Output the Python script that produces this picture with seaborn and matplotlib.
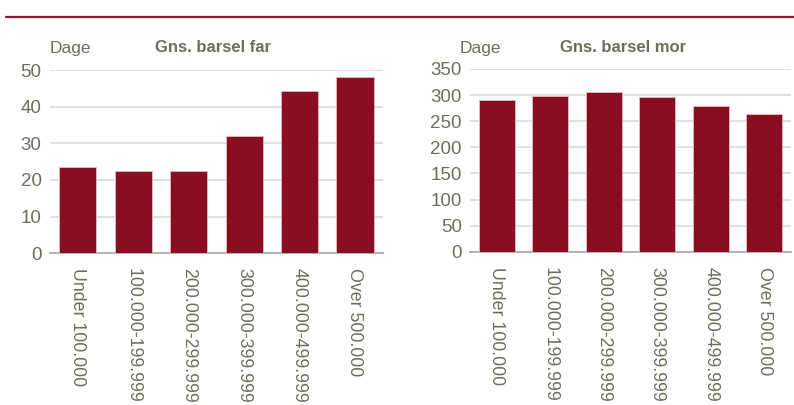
import matplotlib
matplotlib.use("Agg")
import matplotlib.pyplot as plt
import seaborn as sns
from matplotlib.lines import Line2D

categories = ["Under 100.000", "100.000-199.999", "200.000-299.999",
              "300.000-399.999", "400.000-499.999", "Over 500.000"]
far_days = [23.6, 22.5, 22.4, 31.9, 44.2, 48.0]
mor_days = [290, 298, 306, 297, 279, 264]

far_ticks = [0, 10, 20, 30, 40, 50]
mor_ticks = [0, 50, 100, 150, 200, 250, 300, 350]

bar_color = "#8a0e22"
text_color = "#6e6e5e"
grid_color = "#dcdcd2"

sns.set_theme(style="white")
plt.rcParams["font.family"] = ["Liberation Sans Narrow", "Liberation Sans", "DejaVu Sans"]

fig = plt.figure(figsize=(7.94, 4.05), dpi=100)
ax1 = fig.add_axes([0.063, 0.375, 0.419, 0.452])
ax2 = fig.add_axes([0.592, 0.378, 0.404, 0.452])


def draw(ax, values, ticks):
    sns.barplot(x=categories, y=values, ax=ax, color=bar_color, saturation=1,
                width=0.67, edgecolor="#e8b8bf", linewidth=0.6, zorder=3)
    ax.set_ylim(ticks[0], ticks[-1])
    ax.set_yticks(ticks)
    ax.yaxis.grid(True, color=grid_color, linewidth=1.2, zorder=0)
    ax.set_axisbelow(True)
    for s in ["top", "right", "left"]:
        ax.spines[s].set_visible(False)
    ax.spines["bottom"].set_color("#a8a8a0")
    ax.spines["bottom"].set_linewidth(1.2)
    ax.tick_params(axis="y", labelsize=13.5, colors=text_color, length=0, pad=6)
    ax.tick_params(axis="x", labelsize=12.8, colors=text_color, length=0, pad=11)
    for lbl in ax.get_xticklabels():
        lbl.set_rotation(-90)
        lbl.set_va("top")
        lbl.set_ha("center")
    ax.set_xlabel("")
    ax.set_ylabel("")
    ax.set_xlim(-0.5, len(categories) - 0.5)


draw(ax1, far_days, far_ticks)
draw(ax2, mor_days, mor_ticks)

fig.text(50 / 794, 1 - 48 / 405, "Dage", fontsize=12.5, color=text_color, va="center", ha="left")
fig.text(213 / 794, 1 - 47 / 405, "Gns. barsel far", fontsize=12, color=text_color,
         fontweight="bold", va="center", ha="center")
fig.text(460 / 794, 1 - 48 / 405, "Dage", fontsize=12.5, color=text_color, va="center", ha="left")
fig.text(623 / 794, 1 - 47 / 405, "Gns. barsel mor", fontsize=12, color=text_color,
         fontweight="bold", va="center", ha="center")

fig.add_artist(Line2D([6 / 794, 1.0], [1 - 17 / 405, 1 - 17 / 405],
                      color="#8a1a2c", linewidth=1.6, transform=fig.transFigure))

fig.savefig("out.png", dpi=100)
